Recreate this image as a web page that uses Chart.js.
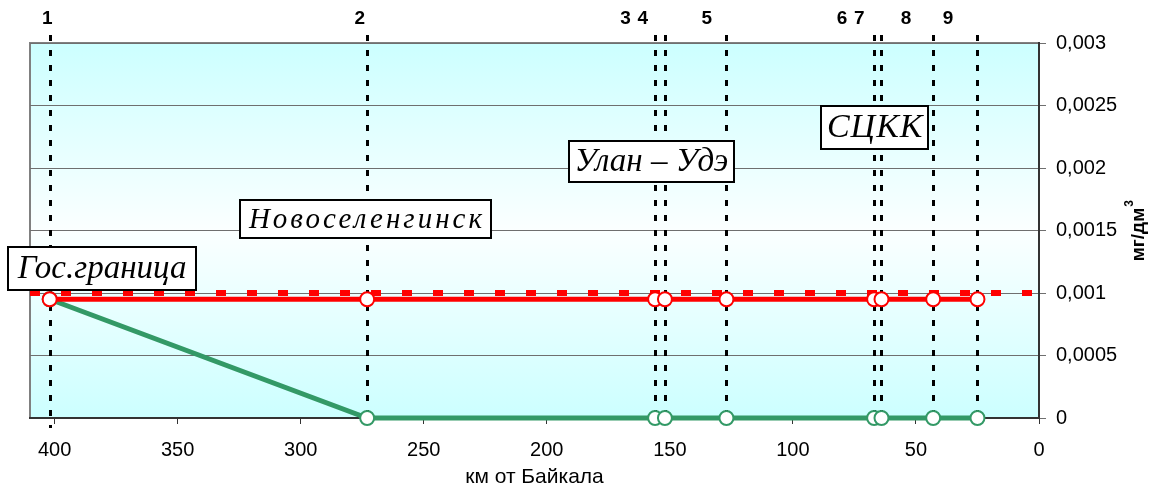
<!DOCTYPE html>
<html>
<head>
<meta charset="utf-8">
<script src="https://cdn.jsdelivr.net/npm/chart.js@4.4.1/dist/chart.umd.min.js"></script>
<style>
  html, body { margin: 0; padding: 0; background: #fff; }
  canvas { display: block; }
</style>
</head>
<body>
<canvas id="chart" width="1150" height="495"></canvas>
<script>
// km от Байкала for the sampling points 1..9
var pointKm = [402, 273, 156, 152, 127, 67, 64, 43, 25];
var pointNames = ['1', '2', '3', '4', '5', '6', '7', '8', '9'];
// where the number labels sit (km), they are shifted a bit from the lines
var nameKm = [403, 276, 168, 161, 135, 80, 73, 54, 37];

var redValues = [0.00095, 0.00095, 0.00095, 0.00095, 0.00095, 0.00095, 0.00095, 0.00095, 0.00095];
var greenValues = [0.00095, 0, 0, 0, 0, 0, 0, 0, 0];

// ПДК line
var pdkKm = [410, 0];
var pdkValues = [0.001, 0.001];

var xTicks = [400, 350, 300, 250, 200, 150, 100, 50, 0];

// text boxes: label, centre km, centre value
var boxTexts = ['Гос.граница', 'Новоселенгинск', 'Улан – Удэ', 'СЦКК'];
var boxKm = [380.7, 273.7, 157.5, 66.8];
var boxValues = [0.001196, 0.001592, 0.002052, 0.002324];

var red = '#ff0000';
var green = '#339966';
var sans = '"Liberation Sans", Arial, sans-serif';

function toPoints(xs, ys) {
    var pts = [];
    for (let i = 0; i < xs.length; i++) {
        pts.push({ x: xs[i], y: ys[i] });
    }
    return pts;
}

var decorPlugin = {
    id: 'decor',
    beforeDraw: function(chart) {
        const ctx = chart.ctx;
        const a = chart.chartArea;
        ctx.save();
        const g = ctx.createLinearGradient(0, a.top, 0, a.bottom);
        g.addColorStop(0, '#ccffff');
        g.addColorStop(0.5, '#fbffff');
        g.addColorStop(1, '#ccffff');
        ctx.fillStyle = g;
        ctx.fillRect(a.left, a.top, a.right - a.left, a.bottom - a.top);
        ctx.strokeStyle = '#808080';
        ctx.lineWidth = 2;
        ctx.strokeRect(a.left, a.top, a.right - a.left, a.bottom - a.top);
        ctx.restore();
    },
    beforeDatasetsDraw: function(chart) {
        // vertical dotted lines at the points
        const ctx = chart.ctx;
        const a = chart.chartArea;
        const xs = chart.scales.x;
        ctx.save();
        ctx.strokeStyle = '#000';
        ctx.lineWidth = 3;
        ctx.setLineDash([6, 9]);
        for (let i = 0; i < pointKm.length; i++) {
            const px = Math.round(xs.getPixelForValue(pointKm[i])) + 0.5;
            ctx.beginPath();
            ctx.moveTo(px, a.top - 8);
            ctx.lineTo(px, i === 0 ? a.bottom + 10 : a.bottom);
            ctx.stroke();
        }
        ctx.restore();
    },
    afterDatasetsDraw: function(chart) {
        const ctx = chart.ctx;
        const a = chart.chartArea;
        const xs = chart.scales.x;
        const ys = chart.scales.y;
        ctx.save();
        // point numbers
        ctx.fillStyle = '#000';
        ctx.font = 'bold 19px ' + sans;
        ctx.textAlign = 'center';
        ctx.textBaseline = 'middle';
        for (let i = 0; i < pointNames.length; i++) {
            ctx.fillText(pointNames[i], xs.getPixelForValue(nameKm[i]), 19);
        }
        // boxes
        var sizes = [[188, 43], [251, 38], [165, 41], [107, 43]];
        var fonts = [33, 29, 33, 34];
        var spacing = [0, 3, 0, 1];
        for (let i = 0; i < boxTexts.length; i++) {
            const cx = xs.getPixelForValue(boxKm[i]);
            const cy = ys.getPixelForValue(boxValues[i]);
            const w = sizes[i][0], h = sizes[i][1];
            ctx.fillStyle = '#fff';
            ctx.fillRect(cx - w / 2, cy - h / 2, w, h);
            ctx.strokeStyle = '#000';
            ctx.lineWidth = 2;
            ctx.strokeRect(Math.round(cx - w / 2), Math.round(cy - h / 2), w, h);
            ctx.fillStyle = '#000';
            ctx.font = 'italic ' + fonts[i] + 'px "Liberation Serif", "Times New Roman", serif';
            ctx.letterSpacing = spacing[i] + 'px';
            ctx.textAlign = 'center';
            ctx.textBaseline = 'middle';
            ctx.fillText(boxTexts[i], cx + spacing[i] / 2, cy + 1);
        }
        ctx.letterSpacing = '0px';
        // y title, reads bottom to top
        ctx.translate(1139, (a.top + a.bottom) / 2);
        ctx.rotate(-Math.PI / 2);
        ctx.font = 'bold 19px ' + sans;
        ctx.textAlign = 'left';
        ctx.textBaseline = 'middle';
        const main = 'мг/дм';
        const mw = ctx.measureText(main).width;
        ctx.fillText(main, -mw / 2 - 4, 0);
        ctx.font = 'bold 12px ' + sans;
        ctx.fillText('3', mw / 2 - 3, -9);
        ctx.restore();
    }
};

var chart = new Chart(document.getElementById('chart'), {
    type: 'line',
    data: {
        datasets: [{
            data: toPoints(pointKm, redValues),
            borderColor: red,
            borderWidth: 5,
            pointRadius: 7,
            pointBorderWidth: 2,
            pointBackgroundColor: '#fff',
            pointBorderColor: red
        }, {
            data: toPoints(pointKm, greenValues),
            borderColor: green,
            borderWidth: 5,
            pointRadius: 7,
            pointBorderWidth: 2,
            pointBackgroundColor: '#fff',
            pointBorderColor: green
        }, {
            data: toPoints(pdkKm, pdkValues),
            borderColor: red,
            borderWidth: 6,
            borderDash: [10, 21],
            pointRadius: 0
        }]
    },
    options: {
        responsive: false,
        animation: false,
        clip: false,
        layout: { padding: { left: 30, top: 43, right: 0, bottom: 0 } },
        plugins: {
            legend: { display: false },
            tooltip: { enabled: false }
        },
        scales: {
            x: {
                type: 'linear',
                reverse: true,
                min: 0,
                max: 410,
                afterBuildTicks: function(s) {
                    s.ticks = xTicks.map(v => ({ value: v }));
                },
                afterFit: function(s) { s.height = 77; },
                border: { color: '#333', width: 2 },
                grid: { drawOnChartArea: false, tickLength: 6, color: '#333' },
                ticks: {
                    color: '#000',
                    padding: 14,
                    maxRotation: 0,
                    autoSkip: false,
                    font: { family: sans, size: 20 }
                },
                title: {
                    display: true,
                    text: 'км от Байкала',
                    color: '#000',
                    padding: { top: 0, bottom: 5 },
                    font: { family: sans, size: 21 }
                }
            },
            y: {
                position: 'right',
                min: 0,
                max: 0.003,
                afterFit: function(s) { s.width = 111; },
                border: { color: '#333', width: 2 },
                grid: { color: '#6f6f6f', lineWidth: 1, tickLength: 7 },
                ticks: {
                    stepSize: 0.0005,
                    color: '#000',
                    padding: 10,
                    font: { family: sans, size: 20 },
                    callback: v => v === 0 ? '0' : String(+v.toFixed(4)).replace('.', ',')
                }
            }
        }
    },
    plugins: [decorPlugin]
});
</script>
</body>
</html>
